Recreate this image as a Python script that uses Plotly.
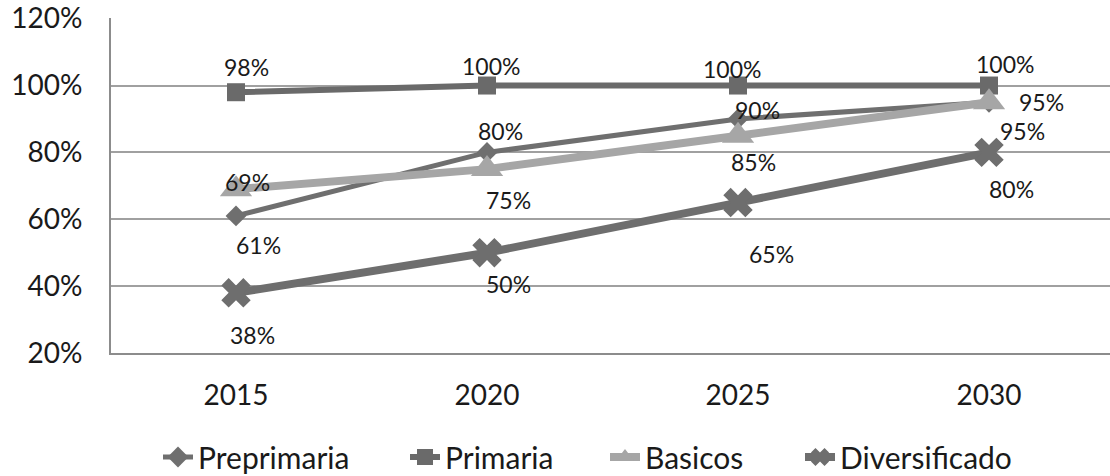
import plotly.graph_objects as go

# Coverage rates (%) by education level
years = ["2015", "2020", "2025", "2030"]
preprimaria = [61, 80, 90, 95]
primaria = [98, 100, 100, 100]
basicos = [69, 75, 85, 95]
diversificado = [38, 50, 65, 80]

y_ticks = [20, 40, 60, 80, 100, 120]

FONT = "Lato"
W, H = 1110, 476
ML, MR, MT, MB = 111, 0, 18, 123
PLOT_W, PLOT_H = W - ML - MR, H - MT - MB

series = [
    dict(name="Preprimaria", values=preprimaria, color="#6f6f6f", width=5,
         symbol="diamond", msize=16, legend_px=158,
         shifts=[(22, 29), (13, -21), (19, -9), (52, 0)]),
    dict(name="Primaria", values=primaria, color="#6a6a6a", width=6,
         symbol="square", msize=18, legend_px=405,
         shifts=[(10, -25), (4, -20), (-6, -17), (16, -22)]),
    dict(name="Basicos", values=basicos, color="#a6a6a6", width=8,
         symbol="triangle-up", msize=28, legend_px=605,
         shifts=[(11, -7), (21, 31), (15, 26), (33, 29)]),
    dict(name="Diversificado", values=diversificado, color="#6e6e6e", width=8,
         symbol="x", msize=26, legend_px=800,
         shifts=[(16, 42), (21, 31), (33, 51), (22, 37)]),
]

legend_y = (H - MB - 457) / PLOT_H

fig = go.Figure()
legend_layouts = {}
for k, s in enumerate(series):
    legend_id = "legend" if k == 0 else f"legend{k + 1}"
    fig.add_trace(go.Scatter(
        x=years, y=s["values"], name=s["name"], mode="lines+markers",
        line=dict(color=s["color"], width=s["width"]),
        marker=dict(symbol=s["symbol"], size=s["msize"], color=s["color"],
                    line=dict(width=0)),
        legend=legend_id,
    ))
    legend_layouts[legend_id] = dict(
        xref="paper", yref="paper", orientation="h",
        x=(s["legend_px"] - ML) / PLOT_W, xanchor="left",
        y=legend_y, yanchor="middle",
        font=dict(family=FONT, size=30, color="#1a1a1a"),
        bgcolor="rgba(0,0,0,0)", borderwidth=0,
    )
    # value labels next to each point
    for i, v in enumerate(s["values"]):
        dx, dy = s["shifts"][i]
        fig.add_annotation(
            x=i, y=v, xref="x", yref="y", text=f"{v}%", showarrow=False,
            xshift=dx, yshift=-dy,
            font=dict(family=FONT, size=23, color="#1a1a1a"),
        )

fig.update_layout(
    width=W, height=H,
    margin=dict(l=ML, r=MR, t=MT, b=MB, autoexpand=False),
    paper_bgcolor="white", plot_bgcolor="white",
    font=dict(family=FONT, size=28, color="#1a1a1a"),
    showlegend=True,
    **legend_layouts,
    xaxis=dict(
        type="category", range=[-0.498, 3.482], automargin=False,
        showgrid=False, showline=True, linecolor="#8c8c8c", linewidth=2,
        ticks="", ticklabelstandoff=16, tickfont=dict(size=28),
    ),
    yaxis=dict(
        range=[20, 120.2], tickvals=y_ticks, automargin=False,
        ticktext=[f"{t}%" for t in y_ticks],
        showgrid=True, gridcolor="#a0a0a0", gridwidth=2,
        showline=True, linecolor="#8c8c8c", linewidth=2,
        zeroline=False, ticks="", ticklabelstandoff=21,
        tickfont=dict(size=28),
    ),
)

fig.write_html("out.html")
